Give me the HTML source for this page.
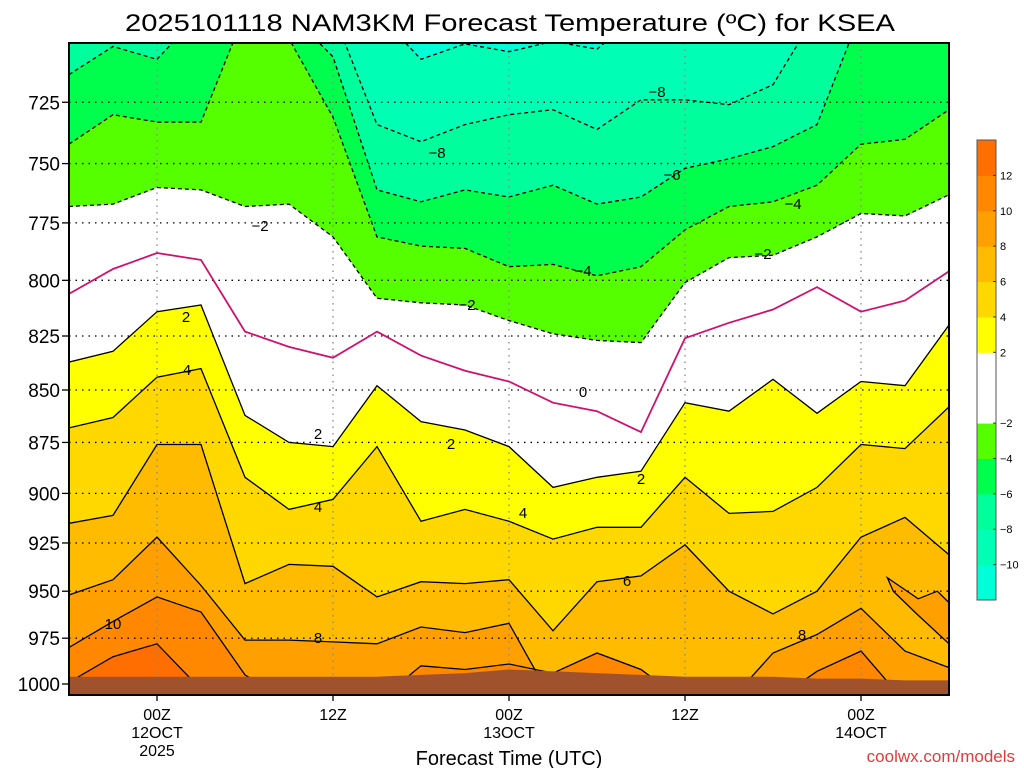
<!DOCTYPE html>
<html><head><meta charset="utf-8"><style>
html,body{margin:0;padding:0;background:#fff;}
svg{display:block;font-family:"Liberation Sans",sans-serif;}
</style></head><body>
<svg id="chart" width="1024" height="768" viewBox="0 0 1024 768" xmlns="http://www.w3.org/2000/svg">
<defs><clipPath id="plotclip"><rect x="69" y="43" width="880" height="652"/></clipPath></defs>
<text x="510" y="31" font-size="24" text-anchor="middle" textLength="770" lengthAdjust="spacingAndGlyphs" fill="#000">2025101118 NAM3KM Forecast Temperature (ºC) for KSEA</text>
<g id="plot" clip-path="url(#plotclip)"></g>
<g id="overlay"></g>
<text x="509" y="765" font-size="20" text-anchor="middle" fill="#000">Forecast Time (UTC)</text>
<text x="1015" y="762" font-size="17" text-anchor="end" fill="#e03c3c">coolwx.com/models</text>
</svg>
<script>
const hours=[0,3,6,9,12,15,18,21,24,27,30,33,36,39,42,45,48,51,54,57,60];
const isoM10=[690,690,690,690,690,690,690,690,708,702,705,701,704,690,690,690,690,690,690,690,690];
const isoM8=[690,690,690,690,690,690,690,734,741,734,730,728,736,724,724,726,718,690,690,690,690];
const isoM6=[714,703,708,690,690,690,707,761,766,761,764,759,767,764,752,748,743,734,690,690,690];
const isoM4=[742,730,733,733,690,700,731,781,785,786,794,793,798,794,778,768,766,759,742,740,728];
const isoM2=[768,767,760,761,768,767,781,808,810,811,818,824,827,828,801,790,789,781,771,772,763];
const iso0=[806,795,788,791,823,830,835,823,834,841,846,856,860,870,826,819,813,803,814,809,796];
const iso2=[837,832,814,811,862,875,877,848,865,869,877,897,892,889,856,860,845,861,846,848,820];
const iso4=[868,863,844,840,892,908,903,877,914,908,914,923,917,917,892,910,909,897,876,878,858];
const iso6=[915,911,876,876,946,936,937,953,945,946,944,971,945,942,926,950,962,950,922,912,931];
const iso8=[952,944,922,947,976,976,977,978,969,972,967,1010,1010,1010,1010,1010,983,973,959,982,991];
const iso10=[980,966,953,961,995,1010,1010,1010,990,992,989,994,983,992,1010,1010,1010,993,982,1010,1010];
const iso12=[999,985,978,1003,1010,1010,1010,1010,1010,1010,1010,1010,1010,1010,1010,1010,1010,1010,1010,1010,1010];
const surfP=[996,996,996,996,996,996,996,996,995,994,992,993,994,995,996,996,996,997,997,998,998];
const pocketHours=[55.8,57.9,59.2,60,60,57.8,56.2];
const pocketP=[943,954,950,956,978,962,950];
const levels=[-10,-8,-6,-4,-2,0,2,4,6,8,10,12];
const levelData=[isoM10,isoM8,isoM6,isoM4,isoM2,iso0,iso2,iso4,iso6,iso8,iso10,iso12];
const cbLevels=[-12,-10,-8,-6,-4,-2,0,2,4,6,8,10,12,14];
const cbColors=['#00ffd8','#00ffb4','#00ff9c','#00ff4c','#55ff00','#ffffff','#ffffff','#ffff00','#ffd800','#ffbb00','#ffa000','#ff8800','#ff6e00'];
const pTicks=[725,750,775,800,825,850,875,900,925,950,975,1000];
const xTickHours=[6,18,30,42,54];
const xTickL1=['00Z','12Z','00Z','12Z','00Z'];
const xTickL2=['12OCT','','13OCT','','14OCT'];
const xTickL3=['2025','','','',''];
const cbLabels=[12,10,8,6,4,2,-2,-4,-6,-8,-10];

const NS='http://www.w3.org/2000/svg';
const X0=69,X1=949,Y0=43,Y1=695;
function xS(h){return X0+h*(X1-X0)/60;}
function yS(p){return 684-1809*Math.log(1000/p);}
function colorFor(t){for(let i=0;i<cbLevels.length-1;i++){if(t>=cbLevels[i]&&t<cbLevels[i+1])return cbColors[i];}return cbColors[cbColors.length-1];}
function mk(tag,attrs,parent){const e=document.createElementNS(NS,tag);for(const k in attrs)e.setAttribute(k,attrs[k]);parent.appendChild(e);return e;}
const plot=document.getElementById('plot');
const ov=document.getElementById('overlay');

let bg=mk('rect',{x:X0,y:Y0,width:X1-X0,height:Y1-Y0,fill:colorFor(-11)},plot);



levels.forEach((L,i)=>{
  const d=levelData[i];
  let pts=hours.map((h,j)=>xS(h).toFixed(1)+','+yS(d[j]).toFixed(1));
  pts.push(X1+','+Y1+' '+X0+','+Y1);
  const pg=mk('polygon',{points:pts.join(' '),fill:colorFor(L+1)},plot);
  
  
});
const pk=mk('polygon',{points:pocketHours.map((h,j)=>xS(h).toFixed(1)+','+yS(pocketP[j]).toFixed(1)).join(' '),fill:colorFor(9),stroke:'#000','stroke-width':1.3},plot);



pTicks.forEach(p=>{
  const g=mk('line',{x1:X0,x2:X1,y1:yS(p),y2:yS(p),stroke:'#000','stroke-width':1.3,'stroke-dasharray':'1.5,5'},plot);
  
  
});
xTickHours.forEach(h=>{
  const g=mk('line',{x1:xS(h),x2:xS(h),y1:Y0,y2:Y1,stroke:'#888','stroke-width':1.3,'stroke-dasharray':'1.5,5'},plot);
  
  
});

levels.forEach((L,i)=>{
  const d=levelData[i];
  const pts=hours.map((h,j)=>xS(h).toFixed(1)+','+yS(d[j]).toFixed(1)).join(' ');
  const attrs={points:pts,fill:'none','stroke-width':1.3};
  if(L<0){attrs.stroke='#000';attrs['stroke-dasharray']='4,3';}
  else if(L===0){attrs.stroke='#d0106e';attrs['stroke-width']=1.8;}
  else attrs.stroke='#000';
  const pl=mk('polyline',attrs,plot);
  
  
});

let tp=hours.map((h,j)=>xS(h).toFixed(1)+','+yS(surfP[j]).toFixed(1));
tp.push(X1+','+Y1+' '+X0+','+Y1);
const tr=mk('polygon',{points:tp.join(' '),fill:'#a0522d'},plot);



const labels=[['−2',260,231],['−8',437,158],['−8',657,97],['−6',672,180],['−4',793,209],['−2',763,259],['−4',583,276],['−2',467,310],['2',186,322],['4',187,375],['2',318,439],['2',451,449],['0',583,397],['2',641,484],['4',318,512],['4',523,518],['6',627,586],['10',113,629],['8',318,643],['8',802,640]];
labels.forEach(l=>{
  const t=mk('text',{x:l[1],y:l[2],'font-size':15,'text-anchor':'middle',fill:'#000'},plot);
  t.textContent=l[0];
  
  
});

const fr=mk('rect',{x:X0,y:Y0,width:X1-X0,height:Y1-Y0,fill:'none',stroke:'#000','stroke-width':2},ov);



pTicks.forEach(p=>{
  const y=yS(p);
  const tk=mk('line',{x1:62,x2:X0,y1:y,y2:y,stroke:'#000','stroke-width':1.3},ov);
  
  
  const t=mk('text',{x:60,y:y+7,'font-size':19,'text-anchor':'end',fill:'#000'},ov);
  t.textContent=p;
  
  
});
xTickHours.forEach((h,i)=>{
  const x=xS(h);
  const tk=mk('line',{x1:x,x2:x,y1:Y1,y2:Y1+6,stroke:'#000','stroke-width':1.3},ov);
  
  
  [xTickL1[i],xTickL2[i],xTickL3[i]].forEach((s,k)=>{
    if(!s)return;
    const t=mk('text',{x:x,y:720+k*18,'font-size':16,'text-anchor':'middle',fill:'#000'},ov);
    t.textContent=s;
    
    
  });
});

const CBX=977,CBY0=140,CBY1=600,CBW=19;
const bh=(CBY1-CBY0)/cbColors.length;
cbColors.forEach((c,i)=>{
  const r=mk('rect',{x:CBX,y:CBY1-(i+1)*bh,width:CBW,height:bh+0.5,fill:c},ov);
  
  
});
const cbf=mk('rect',{x:CBX,y:CBY0,width:CBW,height:CBY1-CBY0,fill:'none',stroke:'#555','stroke-width':1},ov);


cbLabels.forEach(v=>{
  const idx=cbLevels.indexOf(v);
  const y=CBY1-idx*bh;
  const tk=mk('line',{x1:CBX+CBW-3,x2:CBX+CBW,y1:y,y2:y,stroke:'#333','stroke-width':1},ov);
  
  
  const t=mk('text',{x:1000,y:y+4,'font-size':11,fill:'#000'},ov);
  t.textContent=v<0?'−'+(-v):String(v);
  
  
});
</script>
</body></html>
